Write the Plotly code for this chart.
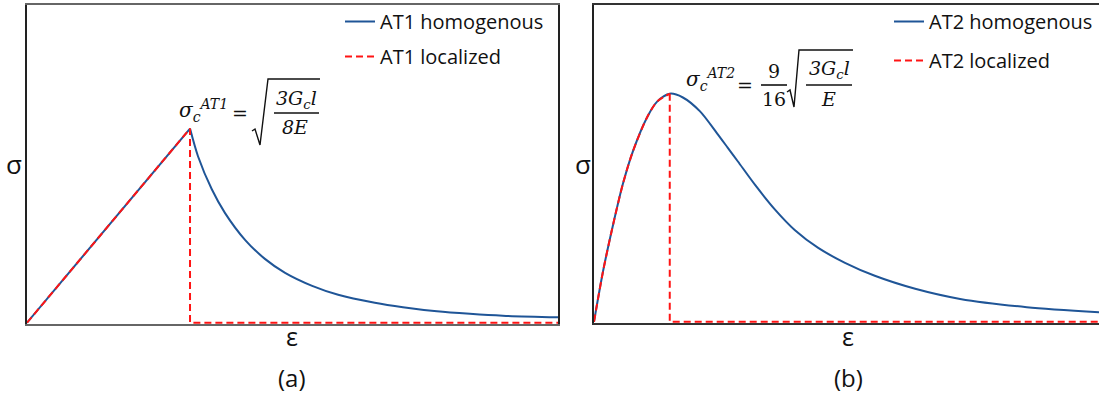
import plotly.graph_objects as go

W, H = 1099, 394

# ---- AT1 model: normalized strain / stress ----
at1_rise_eps = [0.0, 0.307]
at1_rise_sig = [0.0, 0.611]
at1_soft_eps = [0.307, 0.322, 0.348, 0.373, 0.411, 0.448, 0.486, 0.537, 0.586,
                0.655, 0.708, 0.772, 0.834, 0.896, 1.0]
at1_soft_sig = [0.611, 0.524, 0.420, 0.345, 0.260, 0.201, 0.157, 0.116, 0.088,
                0.063, 0.049, 0.036, 0.028, 0.022, 0.017]
at1_loc_eps = [0.0, 0.307, 0.307, 1.0]
at1_loc_sig = [0.0, 0.611, 0.0, 0.0]

# ---- AT2 model ----
at2_eps = [0.0, 0.018, 0.038, 0.057, 0.077, 0.105, 0.125, 0.150, 0.176, 0.210,
           0.244, 0.265, 0.285, 0.319, 0.358, 0.398, 0.444, 0.497, 0.556, 0.636,
           0.725, 0.857, 1.0]
at2_sig = [0.0, 0.160, 0.308, 0.434, 0.538, 0.645, 0.695, 0.720, 0.708, 0.664,
           0.594, 0.549, 0.506, 0.432, 0.355, 0.289, 0.233, 0.186, 0.145, 0.104,
           0.072, 0.046, 0.030]
at2_peak = 7  # index of the peak stress
at2_loc_tail_eps = [0.150, 0.150, 1.0]
at2_loc_tail_sig = [0.720, 0.0, 0.0]

names = ["AT1 homogenous", "AT1 localized", "AT2 homogenous", "AT2 localized"]
panel_labels = ["(a)", "(b)"]

BLUE = "#1f5597"
RED = "#ff1414"
SANS = "'Open Sans', Lato, sans-serif"
SERIF = "'DejaVu Serif', serif"
DASH = "7px,4px"
Y_RANGE = [-0.004, 1]  # small offset keeps the zero-stress dashes on top of the axis line


def px(x, y):
    return x / W, 1 - y / H


fig = go.Figure()

# left panel
fig.add_trace(go.Scatter(x=at1_rise_eps, y=at1_rise_sig, mode="lines", name=names[0],
                         line=dict(color=BLUE, width=2),
                         xaxis="x", yaxis="y", legend="legend", legendgroup="a1"))
fig.add_trace(go.Scatter(x=at1_soft_eps, y=at1_soft_sig, mode="lines", name=names[0],
                         showlegend=False,
                         line=dict(color=BLUE, width=2, shape="spline", smoothing=0.8),
                         xaxis="x", yaxis="y", legend="legend", legendgroup="a1"))
fig.add_trace(go.Scatter(x=at1_loc_eps, y=at1_loc_sig, mode="lines", name=names[1],
                         line=dict(color=RED, width=2, dash=DASH),
                         xaxis="x", yaxis="y", legend="legend", legendgroup="a2"))

# right panel
fig.add_trace(go.Scatter(x=at2_eps, y=at2_sig, mode="lines", name=names[2],
                         line=dict(color=BLUE, width=2, shape="spline", smoothing=0.8),
                         xaxis="x2", yaxis="y2", legend="legend2", legendgroup="b1"))
fig.add_trace(go.Scatter(x=at2_eps[:at2_peak + 1], y=at2_sig[:at2_peak + 1], mode="lines",
                         name=names[3],
                         line=dict(color=RED, width=2, dash=DASH, shape="spline", smoothing=0.8),
                         xaxis="x2", yaxis="y2", legend="legend2", legendgroup="b2"))
fig.add_trace(go.Scatter(x=at2_loc_tail_eps, y=at2_loc_tail_sig, mode="lines",
                         name=names[3], showlegend=False,
                         line=dict(color=RED, width=2, dash=DASH),
                         xaxis="x2", yaxis="y2", legend="legend2", legendgroup="b2"))

axis_common = dict(showgrid=False, zeroline=False, showticklabels=False, ticks="",
                   fixedrange=True, layer="below traces")

fig.update_layout(
    width=W, height=H, autosize=False,
    margin=dict(l=0, r=0, t=0, b=0),
    paper_bgcolor="white", plot_bgcolor="white",
    xaxis=dict(domain=[27 / W, 558 / W], range=[0, 1], anchor="y",
               showline=True, linecolor="#666666", linewidth=1.5, mirror=True, **axis_common),
    yaxis=dict(domain=[1 - 324 / H, 1 - 5 / H], range=Y_RANGE, anchor="x",
               showline=True, linecolor="#222222", linewidth=1.5, mirror=True, **axis_common),
    xaxis2=dict(domain=[594 / W, 1.0], range=[0, 1], anchor="y2",
                showline=True, linecolor="#333333", linewidth=1.5, mirror=True, **axis_common),
    yaxis2=dict(domain=[1 - 323 / H, 1 - 5 / H], range=Y_RANGE, anchor="x2",
                showline=True, linecolor="#222222", linewidth=1.5, **axis_common),
    legend=dict(x=340 / W, y=1 - 2 / H, xanchor="left", yanchor="top",
                bgcolor="rgba(0,0,0,0)", font=dict(family=SANS, size=20, color="#111111"),
                tracegroupgap=6, traceorder="grouped"),
    legend2=dict(x=889 / W, y=1 - 2 / H, xanchor="left", yanchor="top",
                 bgcolor="rgba(0,0,0,0)", font=dict(family=SANS, size=20, color="#111111"),
                 tracegroupgap=10, traceorder="grouped"),
)

ann = []


def text(x, y, t, size, family=SANS, italic=False, xanchor="center"):
    ax, ay = px(x, y)
    style = "italic" if italic else "normal"
    ann.append(dict(x=ax, y=ay, xref="paper", yref="paper", text=t, showarrow=False,
                    xanchor=xanchor, yanchor="middle",
                    font=dict(family=family, size=size, color="#111111", style=style)))


# axis symbols and panel labels
text(14, 164, "σ", 26)
text(583, 164, "σ", 26)
text(292, 336, "ε", 25)
text(848, 336, "ε", 25)
text(292, 377, panel_labels[0], 24)
text(848, 377, panel_labels[1], 24)

shapes = []


def seg(pts, width=1.5):
    path = "M " + " L ".join(f"{x / W:.5f},{1 - y / H:.5f}" for x, y in pts)
    shapes.append(dict(type="path", path=path, xref="paper", yref="paper",
                       line=dict(color="#111111", width=width)))


# critical stress, AT1
text(177, 110, "σ<sub>c</sub><sup>AT1</sup>", 20, SERIF, True, xanchor="left")
text(240, 113, "=", 19, SERIF)
text(296, 99, "3G<sub>c</sub>l", 19, SERIF, True)
seg([(274, 113), (319, 113)], 1.6)
text(295, 127, "8E", 19, SERIF, True)
seg([(252, 131), (255, 129), (260, 145), (268, 79), (320, 79)], 1.4)

# critical stress, AT2
text(684, 80, "σ<sub>c</sub><sup>AT2</sup>", 20, SERIF, True, xanchor="left")
text(745, 85, "=", 19, SERIF)
text(774, 71, "9", 19, SERIF)
seg([(761, 85), (787, 85)], 1.6)
text(774, 99, "16", 19, SERIF)
text(829, 70, "3G<sub>c</sub>l", 19, SERIF, True)
seg([(806, 85), (852, 85)], 1.6)
text(828, 99, "E", 19, SERIF, True)
seg([(787, 92), (790, 90), (794, 107), (799, 50), (853, 50)], 1.4)

fig.update_layout(annotations=ann, shapes=shapes)

fig.write_html("out.html")
